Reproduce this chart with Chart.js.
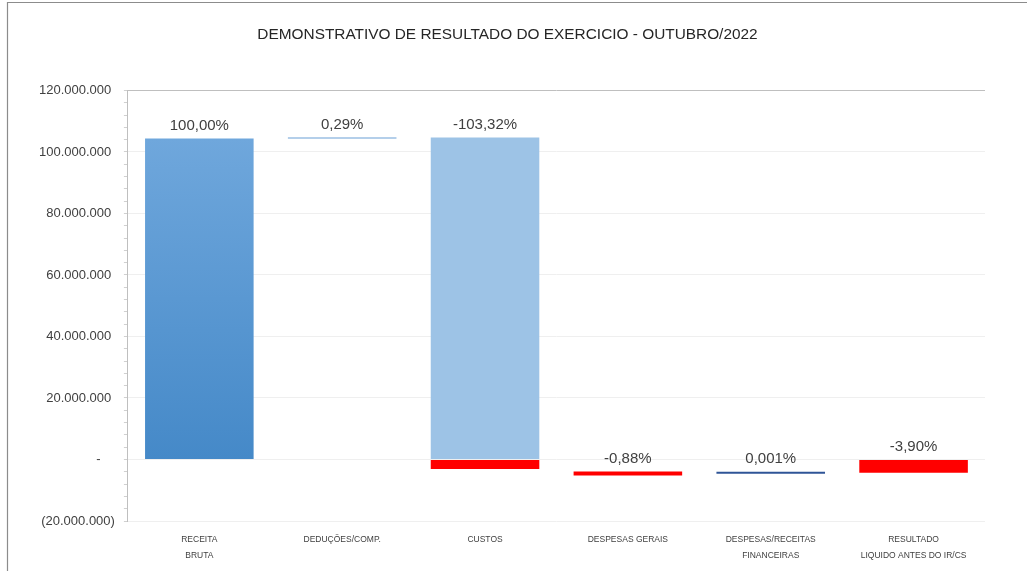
<!DOCTYPE html>
<html>
<head>
<meta charset="utf-8">
<script src="https://cdn.jsdelivr.net/npm/chart.js@4.4.0/dist/chart.umd.min.js"></script>
<style>
  body { margin: 0; background: #fff; }
  #box { width: 1027px; height: 571px; position: relative; }
</style>
</head>
<body>
<div id="box"><canvas id="dreChart"></canvas></div>
<script>
const categorias = [
  ['RECEITA', 'BRUTA'],
  'DEDUÇÕES/COMP.',
  'CUSTOS',
  'DESPESAS GERAIS',
  ['DESPESAS/RECEITAS', 'FINANCEIRAS'],
  ['RESULTADO', 'LIQUIDO ANTES DO IR/CS']
]

// barras flutuantes [inicio, fim]
const barrasPrincipais = [[0, 104400000], null, [0, 104700000], null, null, null]
const barrasNegativas = [null, null, [0, -3100000], [-3900000, -5200000], null, [0, -4300000]]
const barrasDeducoes = [null, [104400000, 104700000], null, null, null, null]
const barrasFinanceiras = [null, null, null, null, [-4000000, -4000000], null]

const percentuais = ['100,00%', '0,29%', '-103,32%', '-0,88%', '0,001%', '-3,90%']

const eixoMin = -20000000
const eixoMax = 120000000

function formatarEixo(v) {
  if (v % 20000000 !== 0) return ''
  if (v === 0) return '-    '
  const s = Math.abs(v).toString().replace(/\B(?=(\d{3})+(?!\d))/g, '.')
  return v < 0 ? '(' + s + ')' : s + ' '
}

function corPrincipal(ctx) {
  if (ctx.dataIndex === 2) return '#9dc3e6'
  const y = ctx.chart.scales.y
  if (!y || !ctx.chart.chartArea) return '#5b9bd5'
  const g = ctx.chart.ctx.createLinearGradient(0, y.getPixelForValue(104400000), 0, y.getPixelForValue(0))
  g.addColorStop(0, '#6fa7dc')
  g.addColorStop(1, '#4589c8')
  return g
}

// moldura e rótulos de percentual
const molduraPlugin = {
  id: 'moldura',
  beforeDraw(chart) {
    const c = chart.ctx
    c.save()
    c.strokeStyle = '#8c8c8c'
    c.lineWidth = 1.2
    c.beginPath()
    c.moveTo(7.5, 571)
    c.lineTo(7.5, 2.5)
    c.lineTo(1027, 2.5)
    c.stroke()
    c.restore()
  }
}

const percentPlugin = {
  id: 'percentuais',
  afterDatasetsDraw(chart) {
    const c = chart.ctx
    c.save()
    c.font = '15px "Liberation Sans", Arial, sans-serif'
    c.fillStyle = '#404040'
    c.textAlign = 'center'
    c.textBaseline = 'middle'
    percentuais.forEach((txt, i) => {
      let topo = Infinity
      let x = null
      chart.data.datasets.forEach((ds, d) => {
        if (ds.data[i] == null) return
        const el = chart.getDatasetMeta(d).data[i]
        topo = Math.min(topo, el.y, el.base)
        x = el.x
      })
      if (x !== null) c.fillText(txt, x, topo - 13)
    })
    c.restore()
  }
}

new Chart(document.getElementById('dreChart'), {
  type: 'bar',
  data: {
    labels: categorias,
    datasets: [
      { label: 'principal', data: barrasPrincipais, backgroundColor: corPrincipal, grouped: false },
      { label: 'negativo', data: barrasNegativas, backgroundColor: '#ff0000', grouped: false },
      { label: 'deducoes', data: barrasDeducoes, backgroundColor: '#6a9fd6', grouped: false, minBarLength: 1 },
      { label: 'financeiras', data: barrasFinanceiras, backgroundColor: '#2f5597', grouped: false, minBarLength: 2 }
    ]
  },
  plugins: [molduraPlugin, percentPlugin],
  options: {
    responsive: true,
    maintainAspectRatio: false,
    animation: false,
    datasets: { bar: { categoryPercentage: 1, barPercentage: 0.76 } },
    layout: { padding: { left: 30, right: 42, top: 0, bottom: -4 } },
    plugins: {
      legend: { display: false },
      tooltip: { enabled: false },
      title: {
        display: true,
        text: 'DEMONSTRATIVO DE RESULTADO DO EXERCICIO - OUTUBRO/2022',
        color: '#262626',
        font: { family: '"Liberation Sans", Arial, sans-serif', size: 15.4, weight: 'normal' },
        padding: { top: 26, bottom: 46 }
      }
    },
    scales: {
      x: {
        grid: { display: false, drawTicks: false },
        border: { display: false },
        ticks: {
          color: '#404040',
          padding: 11,
          maxRotation: 0,
          font: { family: '"Liberation Sans", Arial, sans-serif', size: 8.5, lineHeight: '16px' }
        }
      },
      y: {
        min: eixoMin,
        max: eixoMax,
        border: { color: '#bfbfbf' },
        grid: {
          color: ctx => {
            const v = ctx.tick.value
            if (v === eixoMax) return '#bfbfbf'
            return v % 20000000 === 0 ? '#efefef' : 'rgba(0,0,0,0)'
          },
          tickColor: '#d0d0d0',
          tickLength: 4
        },
        ticks: {
          stepSize: 4000000,
          autoSkip: false,
          padding: 9,
          color: '#404040',
          font: { family: '"Liberation Sans", Arial, sans-serif', size: 13 },
          callback: v => formatarEixo(v)
        }
      }
    }
  }
})
</script>
</body>
</html>
